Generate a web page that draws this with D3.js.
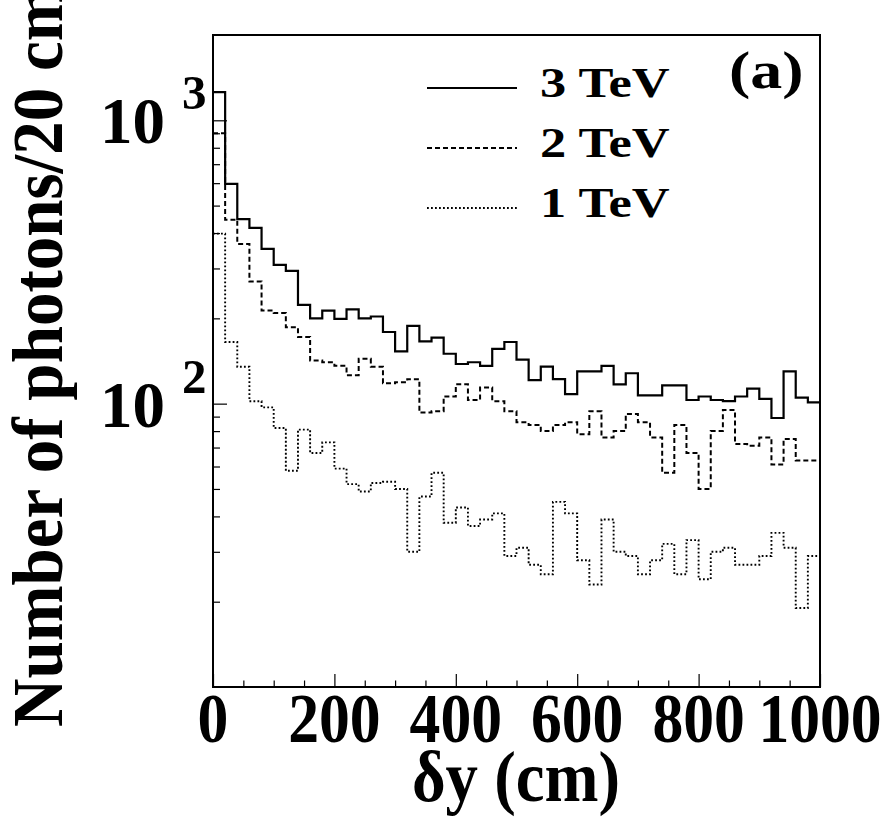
<!DOCTYPE html>
<html>
<head>
<meta charset="utf-8">
<script src="https://cdn.jsdelivr.net/npm/d3@7.9.0/dist/d3.min.js"></script>
<style>
  body { margin: 0; background: #fff; }
</style>
</head>
<body>
<svg id="chart" width="887" height="834"></svg>
<script>
// photons per 20 cm bin, 0..1000 cm (50 bins)
const binEdges = d3.range(0, 1001, 20);
const tev3 = [1257, 597, 448, 417, 352, 309, 294, 223, 200, 213, 199, 215, 200, 203, 179, 153, 188, 166, 171, 150,
              138, 140, 136, 156, 165, 143, 121, 135, 122, 108, 130, 130, 136, 117, 128, 107, 107, 116, 116, 103,
              106, 103, 102, 106, 113, 104, 89, 130, 105, 101];
const tev2 = [901, 446, 366, 270, 213, 209, 186, 172, 142, 140, 136, 126, 144, 135, 118, 119, 122, 93, 94, 106,
              117, 103, 114, 102, 94, 86, 84, 80, 84, 86, 78, 94, 76, 80, 92, 86, 76, 57, 84, 67,
              50, 80, 95, 72, 71, 76, 61, 75, 63, 63];
const tev1 = [398, 165, 135, 102, 97, 82, 58, 81, 67, 73, 59, 52, 49, 52.5, 53, 50, 30, 47, 57, 38,
              43, 37, 39, 41, 29, 31, 27, 25, 45, 41, 28, 23, 39, 30, 29, 25, 28, 32, 25, 33,
              24, 30, 31, 27, 27, 29, 35, 31, 19, 29];
const seriesLabels = ["3 TeV", "2 TeV", "1 TeV"];
const xTickLabels = [0, 200, 400, 600, 800, 1000];
const yMajor = [100, 1000];

const svg = d3.select("#chart");
const pLeft = 213, pRight = 820, pTop = 35, pBottom = 687;

const x = d3.scaleLinear().domain([0, 1000]).range([pLeft, pRight]);
const y = d3.scaleLog().domain([10, 2000]).range([pBottom, pTop]);

const styles = [
  { dash: null, width: 2.2 },
  { dash: "5,3", width: 2 },
  { dash: "1.8,2.2", width: 1.9 }
];

function label(sel) {
  return sel.style("font-family", '"Liberation Serif", "Times New Roman", serif')
    .style("font-weight", "bold")
    .attr("fill", "#000");
}

// histograms
const line = d3.line()
  .x(d => x(d[0]))
  .y(d => y(d[1]))
  .curve(d3.curveStepAfter);

[tev3, tev2, tev1].forEach((vals, i) => {
  let pts = vals.map((v, k) => [binEdges[k], v]);
  pts.push([binEdges[vals.length], vals[vals.length - 1]]);
  svg.append("path")
    .attr("d", line(pts))
    .attr("fill", "none")
    .attr("stroke", "#000")
    .attr("stroke-width", styles[i].width)
    .attr("stroke-dasharray", styles[i].dash);
});

// ticks (drawn inside the frame)
const xMinor = d3.range(0, 1001, 50).filter(d => d % 200 !== 0);
svg.append("g")
  .attr("transform", `translate(0,${pBottom})`)
  .call(d3.axisBottom(x).tickValues(xTickLabels).tickSize(-13).tickFormat(""))
  .call(g => g.select(".domain").remove());
svg.append("g")
  .attr("transform", `translate(0,${pBottom})`)
  .call(d3.axisBottom(x).tickValues(xMinor).tickSize(-6.5).tickFormat(""))
  .call(g => g.select(".domain").remove());

const yMinor = [];
[10, 100, 1000].forEach(dec => {
  for (let m = 2; m <= 9; m++) if (dec * m < 2000) yMinor.push(dec * m);
});
svg.append("g")
  .attr("transform", `translate(${pLeft},0)`)
  .call(d3.axisLeft(y).tickValues(yMajor).tickSize(-14).tickFormat(""))
  .call(g => g.select(".domain").remove());
svg.append("g")
  .attr("transform", `translate(${pLeft},0)`)
  .call(d3.axisLeft(y).tickValues(yMinor).tickSize(-7).tickFormat(""))
  .call(g => g.select(".domain").remove());
svg.selectAll(".tick line").attr("stroke", "#000").attr("stroke-width", 1.2);

// frame
svg.append("rect")
  .attr("x", pLeft).attr("y", pTop)
  .attr("width", pRight - pLeft).attr("height", pBottom - pTop)
  .attr("fill", "none").attr("stroke", "#000").attr("stroke-width", 2);

// x tick labels
xTickLabels.forEach(v => {
  svg.append("text")
    .call(label)
    .attr("transform", `translate(${x(v)},742) scale(0.88,1)`)
    .attr("text-anchor", "middle")
    .attr("font-size", 70)
    .text(v);
});

// y tick labels 10^n
yMajor.forEach(v => {
  const yy = y(v);
  svg.append("text")
    .call(label)
    .attr("x", 165).attr("y", yy + 23)
    .attr("text-anchor", "end")
    .attr("font-size", 65)
    .text("10");
  svg.append("text")
    .call(label)
    .attr("x", 182).attr("y", yy - 11)
    .attr("font-size", 49)
    .text(Math.round(Math.log10(v)));
});

// axis titles
svg.append("text")
  .call(label)
  .attr("transform", "translate(62,727) rotate(-90) scale(0.944,1)")
  .attr("font-size", 71)
  .text("Number of photons/20 cm");

svg.append("text")
  .call(label)
  .attr("transform", "translate(516,801) scale(0.9,1)")
  .attr("text-anchor", "middle")
  .attr("font-size", 72)
  .text("δy (cm)");

// legend
const legendY = [97, 157, 217];
seriesLabels.forEach((lab, i) => {
  svg.append("line")
    .attr("x1", 427).attr("x2", 517)
    .attr("y1", legendY[i] - 9).attr("y2", legendY[i] - 9)
    .attr("stroke", "#000")
    .attr("stroke-width", styles[i].width)
    .attr("stroke-dasharray", styles[i].dash);
  svg.append("text")
    .call(label)
    .attr("transform", `translate(540,${legendY[i]}) scale(1.22,1)`)
    .attr("font-size", 43)
    .text(lab);
});

svg.append("text")
  .call(label)
  .attr("transform", "translate(729,88) scale(1.23,1)")
  .attr("font-size", 52)
  .text("(a)");
</script>
</body>
</html>
